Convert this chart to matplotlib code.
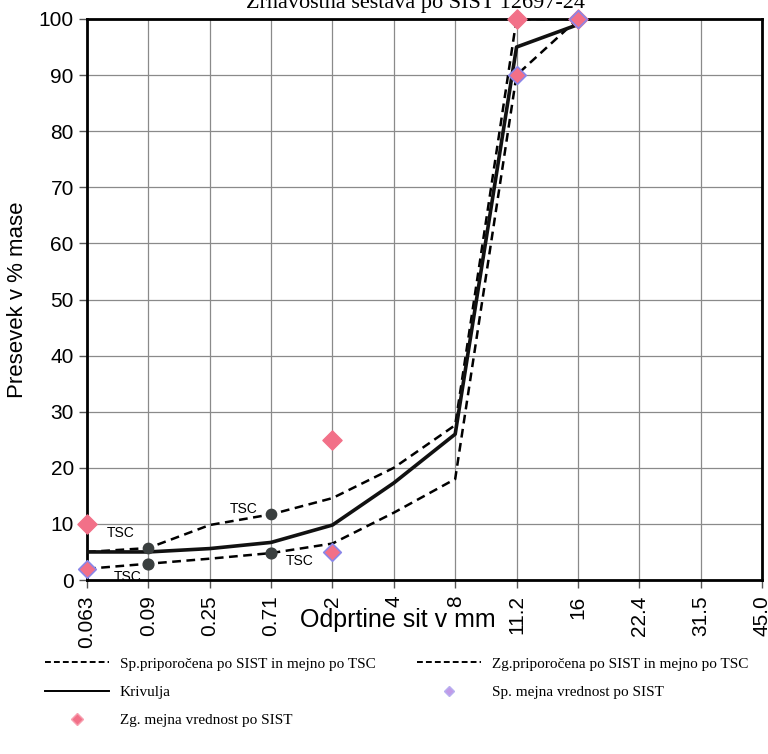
import matplotlib
matplotlib.use("Agg")
import matplotlib.pyplot as plt
import numpy as np
from matplotlib.lines import Line2D

sieves = ['0.063', '0.09', '0.25', '0.71', '2', '4', '8', '11.2', '16', '22.4', '31.5', '45.0']
upper_rec = [5, 5.7, 9.8, 11.7, 14.6, 20, 27.6, 100, 100]
lower_rec = [2, 2.9, 3.8, 4.8, 6.5, 12, 18, 90, 100]
curve = [5, 5, 5.6, 6.7, 9.8, 17.3, 26, 95, 99]
zg_limit_x = ['0.063', '2', '11.2', '16']
zg_limit_y = [10, 25, 100, 100]
sp_limit_x = ['0.063', '2', '11.2', '16']
sp_limit_y = [2, 5, 90, 100]
tsc_x = ['0.09', '0.71']
tsc_upper = [5.7, 11.7]
tsc_lower = [2.9, 4.8]

W, H = 768, 754
fig = plt.figure(figsize=(W / 100, H / 100), dpi=100)
ax = fig.add_axes([87 / W, 1 - 580 / H, (762 - 87) / W, (580 - 19) / H])

pos = {s: i for i, s in enumerate(sieves)}
xs = np.arange(len(sieves))

ax.set_xlim(0, len(sieves) - 1)
ax.set_ylim(0, 100)
ax.set_xticks(xs)
ax.set_xticklabels(sieves, rotation=90, fontsize=15, family='Liberation Sans')
ax.set_yticks(np.arange(0, 101, 10))
ax.set_yticklabels([str(v) for v in range(0, 101, 10)], fontsize=15, family='Liberation Sans')
ax.grid(True, color='#8a8a8a', lw=0.9)
ax.set_axisbelow(True)
for s in ax.spines.values():
    s.set_linewidth(2)
ax.tick_params(axis='both', length=6, width=1, color='#555555')
ax.tick_params(axis='x', pad=5)

dash = (0, (3.5, 2.2))
n = len(curve)
ax.plot(xs[:len(lower_rec)], lower_rec, color='black', lw=1.8, linestyle=dash, zorder=3)
ax.plot(xs[:len(upper_rec)], upper_rec, color='black', lw=1.8, linestyle=dash, zorder=3)
ax.plot(xs[:n], curve, color='#111111', lw=2.6, zorder=4)

tx = [pos[s] for s in tsc_x]
ax.scatter(tx, tsc_upper, s=55, color='#3a3f3f', zorder=5)
ax.scatter(tx, tsc_lower, s=60, color='#3a3f3f', zorder=5)

ax.scatter([pos[s] for s in zg_limit_x], zg_limit_y, marker='D', s=95,
           color='#f27088', edgecolors='#f27088', zorder=6, clip_on=False)
ax.scatter([pos[s] for s in sp_limit_x], sp_limit_y, marker='D', s=80,
           color='#f27088', edgecolors='#8a86e8', linewidths=1.2, zorder=7, clip_on=False)

def tsc(x, y, dx, dy):
    ax.annotate('TSC', xy=(x, y), xytext=(dx * 0.72, dy * 0.72), textcoords='offset points',
                ha='center', va='center', fontsize=10, family='Liberation Sans', zorder=8)

tsc(tx[0], tsc_upper[0], -28, 15)
tsc(tx[1], tsc_upper[1], -27, 5)
tsc(tx[1], tsc_lower[1], 29, -8)
tsc(tx[0], tsc_lower[0], -21, -13)

ax.set_ylabel('Presevek v % mase', fontsize=16, family='Liberation Sans', labelpad=8)
fig.text(398 / W, 1 - 620 / H, 'Odprtine sit v mm', fontsize=18, family='Liberation Sans',
         ha='center', va='center')
fig.text(416 / W, 1 - 8 / H, 'Zrnavostna sestava po SIST 12697-24', fontsize=16,
         family='Liberation Serif', ha='center', va='baseline')

h_sp = Line2D([], [], color='black', lw=1.4, linestyle=(0, (3, 1.6)))
h_zg = Line2D([], [], color='black', lw=1.4, linestyle=(0, (3, 1.6)))
h_kr = Line2D([], [], color='black', lw=1.4)
h_zgm = Line2D([], [], color='#f27088', marker='D', markersize=6, lw=0, markeredgecolor='#f7a0b0')
h_spm = Line2D([], [], color='#c09ae8', marker='D', markersize=5, lw=0, markeredgecolor='#b8b0f0')
handles = [h_sp, h_kr, h_zgm, h_zg, h_spm]
labels = ['Sp.priporočena po SIST in mejno po TSC', 'Krivulja', 'Zg. mejna vrednost po SIST',
          'Zg.priporočena po SIST in mejno po TSC', 'Sp. mejna vrednost po SIST']
fig.legend(handles, labels, ncol=2, loc='upper left', bbox_to_anchor=(45 / W, 1 - 657 / H),
           frameon=False, borderpad=0, borderaxespad=0, handlelength=4.2, handletextpad=0.7,
           columnspacing=2.7, labelspacing=0.95, prop={'family': 'Liberation Serif', 'size': 11})

fig.savefig('out.png', dpi=100)
